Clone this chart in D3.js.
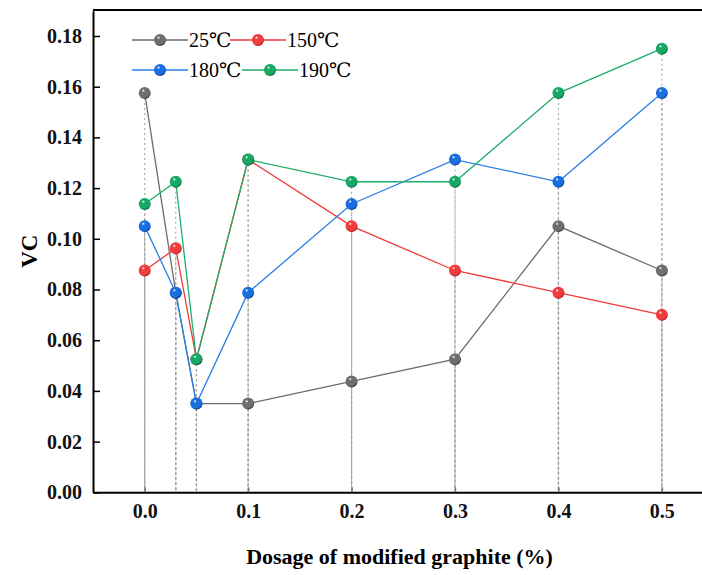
<!DOCTYPE html>
<html>
<head>
<meta charset="utf-8">
<script src="https://cdn.jsdelivr.net/npm/d3@7"></script>
<style>
  body { margin: 0; background: #fff; }
  svg text { font-family: "Liberation Serif", "DejaVu Serif", serif; }
</style>
</head>
<body>
<div id="chart"></div>
<script>
// Dosage of modified graphite (%)
var dosage = [0, 0.03, 0.05, 0.1, 0.2, 0.3, 0.4, 0.5];
var vc25  = [0.1575, 0.07875, 0.035, 0.035, 0.04375, 0.0525, 0.105, 0.0875];
var vc150 = [0.0875, 0.09625, 0.0525, 0.13125, 0.105, 0.0875, 0.07875, 0.07];
var vc180 = [0.105, 0.07875, 0.035, 0.07875, 0.11375, 0.13125, 0.1225, 0.1575];
var vc190 = [0.11375, 0.1225, 0.0525, 0.13125, 0.1225, 0.1225, 0.1575, 0.175];
var seriesNames = ['25℃', '150℃', '180℃', '190℃'];
var xTicks = [0, 0.1, 0.2, 0.3, 0.4, 0.5];
var yTicks = [0, 0.02, 0.04, 0.06, 0.08, 0.10, 0.12, 0.14, 0.16, 0.18];

var width = 702, height = 575;
var margin = {top: 10, right: 0, bottom: 83, left: 93};

var series = [
  {name: seriesNames[0], values: vc25,  line: '#6b6b6b', ball: '#6e6e6e', dark: '#3c3c3c'},
  {name: seriesNames[1], values: vc150, line: '#f23a3a', ball: '#f03c3c', dark: '#b01818'},
  {name: seriesNames[2], values: vc180, line: '#2a7fe8', ball: '#1a6ee0', dark: '#0a3f9a'},
  {name: seriesNames[3], values: vc190, line: '#1fae6a', ball: '#16a864', dark: '#0a6a3a'}
];

var svg = d3.select('#chart').append('svg')
  .attr('width', width).attr('height', height);

// sphere-like gradients for the markers
var defs = svg.append('defs');
series.forEach(function(s, i) {
  var g = defs.append('radialGradient')
    .attr('id', 'ball' + i)
    .attr('cx', '40%').attr('cy', '35%').attr('r', '65%')
    .attr('fx', '38%').attr('fy', '30%');
  g.append('stop').attr('offset', '0%').attr('stop-color', '#ffffff');
  g.append('stop').attr('offset', '22%').attr('stop-color', s.ball);
  g.append('stop').attr('offset', '80%').attr('stop-color', s.ball);
  g.append('stop').attr('offset', '100%').attr('stop-color', s.dark);
});

var x = d3.scaleLinear().domain([-0.05, 0.5388]).range([margin.left, width - margin.right]);
var y = d3.scaleLinear().domain([0, 0.19]).range([492.3, 492.3 - 0.19 / 0.02 * 50.7]);

// dotted drop lines
var drops = svg.append('g');
series.forEach(function(s) {
  drops.selectAll(null)
    .data(s.values)
    .enter().append('line')
    .attr('x1', function(d, i) { return x(dosage[i]); })
    .attr('x2', function(d, i) { return x(dosage[i]); })
    .attr('y1', function(d) { return y(d); })
    .attr('y2', y(0))
    .attr('stroke', '#999')
    .attr('stroke-width', 1.2)
    .attr('stroke-dasharray', '2,3')
    .attr('opacity', 0.8);
});

// lines
var line = d3.line()
  .x(function(d, i) { return x(dosage[i]); })
  .y(function(d) { return y(d); });

series.forEach(function(s) {
  svg.append('path')
    .datum(s.values)
    .attr('fill', 'none')
    .attr('stroke', s.line)
    .attr('stroke-width', 1.3)
    .attr('d', line);
});

// markers
series.forEach(function(s, k) {
  svg.append('g').selectAll('circle')
    .data(s.values)
    .enter().append('circle')
    .attr('cx', function(d, i) { return x(dosage[i]); })
    .attr('cy', function(d) { return y(d); })
    .attr('r', 6)
    .attr('fill', 'url(#ball' + k + ')');
});

// axes
var yAxis = d3.axisLeft(y).tickValues(yTicks).tickSizeInner(-7).tickSizeOuter(0)
  .tickFormat(d3.format('.2f')).tickPadding(11);
var yG = svg.append('g').attr('transform', 'translate(' + margin.left + ',0)').call(yAxis);
yG.select('.domain').attr('stroke-width', 2);
yG.selectAll('.tick line').attr('stroke-width', 1.5);
yG.selectAll('.tick text').attr('font-size', 20).attr('font-weight', 'bold').attr('fill', '#111');

var xAxis = d3.axisBottom(x).tickValues(xTicks).tickSizeInner(-5).tickSizeOuter(0)
  .tickFormat(d3.format('.1f')).tickPadding(12);
var xG = svg.append('g').attr('transform', 'translate(0,' + y(0) + ')').call(xAxis);
xG.select('.domain').attr('stroke-width', 2);
xG.selectAll('.tick line').attr('stroke', '#777').attr('stroke-width', 1.5);
xG.selectAll('.tick text').attr('font-size', 20).attr('font-weight', 'bold').attr('fill', '#111');

// top frame line
svg.append('line')
  .attr('x1', margin.left).attr('x2', width)
  .attr('y1', margin.top).attr('y2', margin.top)
  .attr('stroke', '#000').attr('stroke-width', 2);

// axis titles
svg.append('text')
  .attr('transform', 'translate(37,' + ((y(0) + margin.top) / 2) + ') rotate(-90)')
  .attr('text-anchor', 'middle')
  .attr('font-size', 23).attr('font-weight', 'bold')
  .text('VC');

svg.append('text')
  .attr('x', (margin.left + width) / 2 + 2).attr('y', 564)
  .attr('text-anchor', 'middle')
  .attr('font-size', 22).attr('font-weight', 'bold')
  .text('Dosage of modified graphite (%)');

// legend
var legendPos = [[132, 40], [230, 40], [132, 70], [242, 70]];
series.forEach(function(s, k) {
  var g = svg.append('g').attr('transform', 'translate(' + legendPos[k][0] + ',' + legendPos[k][1] + ')');
  g.append('line').attr('x1', 0).attr('x2', 56).attr('y1', 0).attr('y2', 0)
    .attr('stroke', s.line).attr('stroke-width', 1.3);
  g.append('circle').attr('cx', 28).attr('cy', 0).attr('r', 6).attr('fill', 'url(#ball' + k + ')');
  g.append('text').attr('x', 57).attr('y', 7).attr('font-size', 20).text(s.name);
});
</script>
</body>
</html>
